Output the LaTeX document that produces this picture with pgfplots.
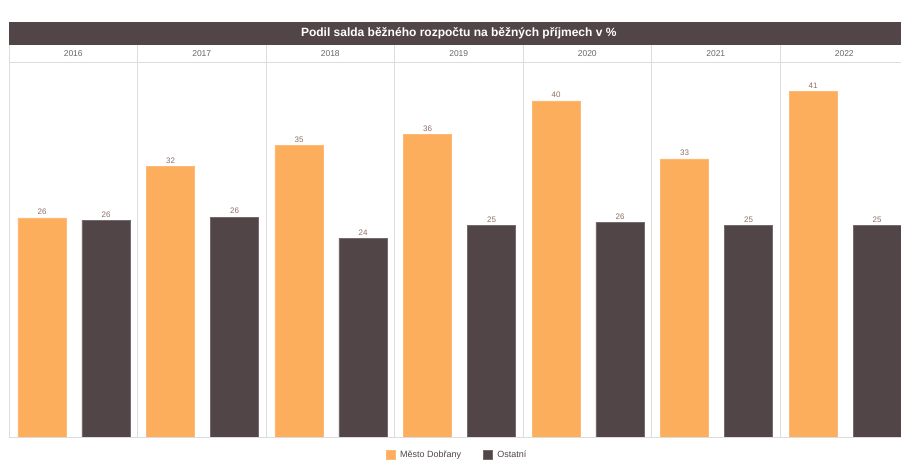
\documentclass[border=0pt]{standalone}
\usepackage{fontspec}
\setmainfont{Liberation Sans}
\usepackage{pgfplots}
\pgfplotsset{compat=1.18}
\definecolor{orangeb}{HTML}{FDAE5C}
\definecolor{darkb}{HTML}{524547}
\definecolor{gridc}{HTML}{DCDCDC}
\definecolor{lblc}{HTML}{8C7065}
\definecolor{yearc}{HTML}{666666}
\begin{document}
\begin{tikzpicture}
\path[use as bounding box] (0,0) rectangle (901pt,467pt);
\begin{axis}[
  at={(9pt,30pt)}, anchor=south west, scale only axis,
  width=892pt, height=375pt,
  xmin=0, xmax=6.9416, ymin=0, ymax=44.5,
  axis line style={draw=none}, xtick=\empty, ytick=\empty,
  clip=false,
  ybar, bar width=0.374, bar shift=0pt,
  nodes near coords={\pgfmathprintnumber[assume math mode=true,fixed,precision=0]{\pgfplotspointmeta}},
  nodes near coords style={font=\fontsize{8}{9}\selectfont, text=lblc, inner sep=2.8pt},
  legend columns=2,
  legend style={draw=none, at={(0.504,-0.048)}, anchor=center,
    font=\fontsize{9}{10}\selectfont, text=darkb,
    /tikz/every even column/.append style={column sep=17pt},
    /tikz/every odd column/.append style={},
    nodes={inner xsep=5pt}},
  legend image code/.code={\fill[#1] (0pt,-4.5pt) rectangle (9pt,4.5pt);},
]
\addplot[fill=orangeb, draw=orangeb!85!white] coordinates {
 (0.257,26.0) (1.257,32.1) (2.257,34.6) (3.257,35.9) (4.257,39.9) (5.257,33.0) (6.257,41.0)};
\addlegendentry{Město Dobřany}
\addplot[fill=darkb, draw=darkb!80!white] coordinates {
 (0.755,25.7) (1.755,26.1) (2.755,23.6) (3.755,25.1) (4.755,25.5) (5.755,25.1) (6.755,25.1)};
\addlegendentry{Ostatní}
% frame and dividers
\draw[gridc] (axis cs:0,0) -- (axis cs:6.9416,0);
\draw[gridc] (axis cs:0,44.5) -- (axis cs:6.9416,44.5);
\pgfplotsinvokeforeach{0,...,6}{
  \draw[gridc] (axis cs:#1,0) -- (axis cs:#1,46.52);
}
\pgfplotsinvokeforeach{2016,...,2022}{
  \node[font=\fontsize{8.5}{10}\selectfont, text=yearc] at (axis cs:#1-2016+0.5,45.45) {#1};
}
% title bar
\fill[darkb] (axis cs:0,46.52) rectangle (axis cs:6.9416,49.25);
\node[font=\fontsize{12}{14}\bfseries, text=white] at (axis cs:3.50,47.885) {Podil salda běžného rozpočtu na běžných příjmech v \%};
\end{axis}
\end{tikzpicture}
\end{document}
